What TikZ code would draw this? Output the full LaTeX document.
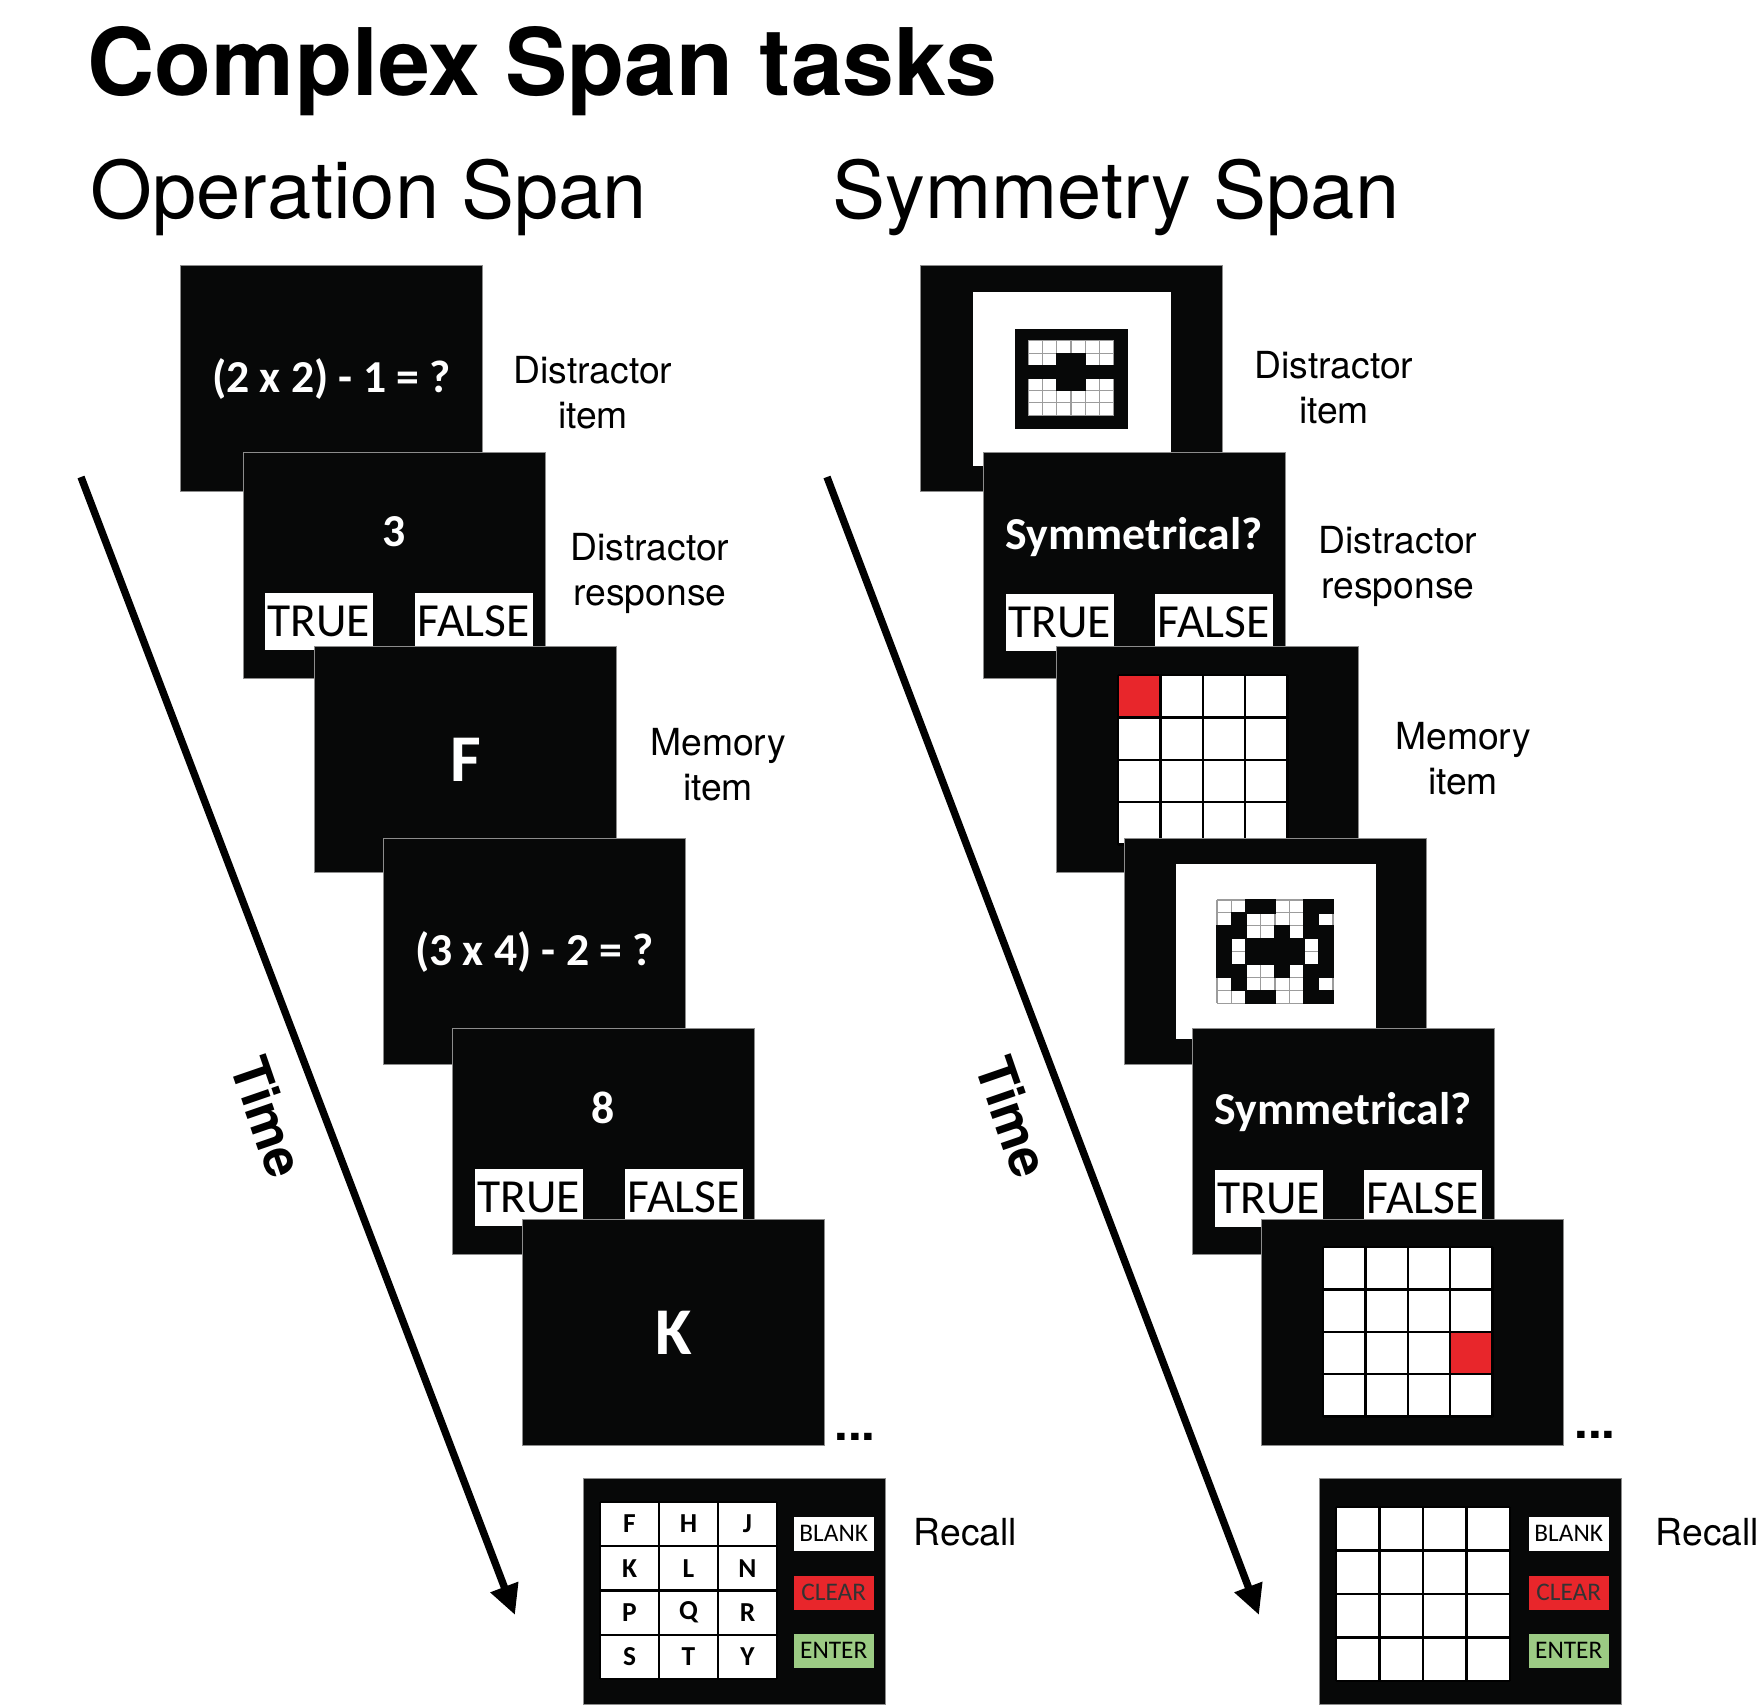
\documentclass[tikz,border=0pt]{standalone}
\usepackage{fontspec}
\setmainfont{TeX Gyre Heros}
\newfontfamily\calibri{Carlito}
\usetikzlibrary{arrows.meta}
\definecolor{screen}{HTML}{070808}
\definecolor{screenedge}{HTML}{8C8C8C}
\definecolor{hitred}{HTML}{E8262B}
\definecolor{entergreen}{HTML}{9CCB84}
\definecolor{cellline}{HTML}{9C9C9C}

\begin{document}
\begin{tikzpicture}[x=0.01cm,y=-0.01cm,
screenbox/.style={draw=screenedge,fill=screen,line width=.3pt,anchor=north west,minimum width=3.02cm,minimum height=2.26cm,inner sep=0pt},
prompt/.style={text=white,font=\calibri\bfseries\fontsize{13}{16}\selectfont,inner sep=0pt},
bigletter/.style={text=white,font=\calibri\bfseries\fontsize{19}{22}\selectfont,inner sep=0pt},
answer/.style={fill=white,anchor=north west,inner sep=0pt,minimum height=.57cm,font=\calibri\fontsize{13.5}{16}\selectfont},
caption/.style={align=center,font=\fontsize{10.6}{12.8}\selectfont},
heading/.style={anchor=base west,inner sep=0pt,font=\fontsize{22.6}{26}\selectfont},
timearrow/.style={-{Triangle[length=.3cm,width=.28cm]},line width=2.1pt},
timelabel/.style={font=\bfseries\fontsize{15}{18}\selectfont,rotate=-71},
button/.style={anchor=north west,minimum width=.8cm,minimum height=.34cm,inner sep=0pt,font=\calibri\fontsize{7.2}{9}\selectfont},
key/.style={font=\calibri\bfseries\fontsize{7.8}{9}\selectfont,inner sep=0pt},
gridline/.style={draw=black,line width=.7pt},
patline/.style={draw=cellline,line width=.3pt},
dots/.style={font=\bfseries\fontsize{14}{16}\selectfont,inner sep=0pt}]
\useasboundingbox (0,0) rectangle (1759,1705);

% headings
\node[anchor=base west,inner sep=0pt,font=\bfseries\fontsize{26.5}{30}\selectfont] (title) at (87,95) {Complex Span tasks};
\node[heading] (opHead) at (90,218) {Operation Span};
\node[heading] (symHead) at (832,218) {Symmetry Span};

% ---- operation span ----
\node[screenbox] (op1) at (180,265) {};
\node[prompt] (op1q) at (op1.center) {(2 x 2) - 1 = ?};
\node[screenbox] (op2) at (243,452) {};
\node[prompt] (op2a) at (394,532) {3};
\node[answer,minimum width=1.08cm] (op2t) at (264,592) {TRUE};
\node[answer,minimum width=1.18cm] (op2f) at (414,592) {FALSE};
\node[screenbox] (op3) at (314,646) {};
\node[bigletter] (op3m) at (op3.center) {F};
\node[screenbox] (op4) at (383,838) {};
\node[prompt] (op4q) at (op4.center) {(3 x 4) - 2 = ?};
\node[screenbox] (op5) at (452,1028) {};
\node[prompt] (op5a) at (603,1108) {8};
\node[answer,minimum width=1.08cm] (op5t) at (474,1168) {TRUE};
\node[answer,minimum width=1.18cm] (op5f) at (624,1168) {FALSE};
\node[screenbox] (op6) at (522,1219) {};
\node[bigletter] (op6m) at (op6.center) {K};
\node[dots] (opdots) at (855,1437) {...};

% recall screen, letters
\node[screenbox] (opRec) at (583,1478) {};
\fill[white] (600,1502) rectangle (777,1679);
\foreach \i in {0,...,3} \draw[gridline] (600+\i*59,1502) -- (600+\i*59,1679);
\foreach \j in {0,...,4} \draw[gridline] (600,1502+\j*44.25) -- (777,1502+\j*44.25);
\foreach \row [count=\r from 0] in {{F,H,J},{K,L,N},{P,Q,R},{S,T,Y}}
  \foreach \ch [count=\c from 0] in \row
    \node[key] (opKey\r\c) at (629.5+\c*59,1524+\r*44.25) {\ch};
\node[button,fill=white] (opBlank) at (793,1516) {BLANK};
\node[button,fill=hitred,text=black!80] (opClear) at (793,1575) {CLEAR};
\node[button,fill=entergreen] (opEnter) at (793,1633) {ENTER};

\node[caption] (opL1) at (593,393) {Distractor\\item};
\node[caption] (opL2) at (650,573) {Distractor\\response};
\node[caption] (opL3) at (718,765) {Memory\\item};
\node[caption,anchor=west,inner sep=0pt] (opL4) at (913,1532) {Recall};

\coordinate (opT0) at (81,477);
\coordinate (opT1) at (515,1615);
\draw[timearrow] (opT0) -- (opT1);
\node[timelabel] (opTime) at (268,1117) {Time};

% ---- symmetry span ----
\node[screenbox] (sym1) at (920,265) {};
\node[fill=white,minimum width=1.98cm,minimum height=1.74cm,inner sep=0pt] (sym1w) at (sym1.center) {};
\node[fill=screen,minimum width=1.13cm,minimum height=1cm,inner sep=0pt] (sym1f) at (sym1.center) {};
\begin{scope}[shift={(1028.4,340.8)}]
  \fill[white] (0,0) rectangle (85.2,74.4);
  \foreach \i in {0,...,6} {\draw[patline] (\i*14.2,0) -- (\i*14.2,74.4); \draw[patline] (0,\i*12.4) -- (85.2,\i*12.4);}
  \foreach \row [count=\r from 0] in {{0,0,0,0,0,0},{0,0,1,1,0,0},{1,1,1,1,1,1},{0,0,1,1,0,0},{0,0,0,0,0,0},{0,0,0,0,0,0}}
    \foreach \v [count=\c from 0] in \row {\ifnum\v=1 \fill[screen] (\c*14.2-.6,\r*12.4-.6) rectangle ++(15.4,13.6);\fi}
\end{scope}

\node[screenbox] (sym2) at (983,452) {};
\node[prompt] (sym2q) at (1134,537) {Symmetrical?};
\node[answer,minimum width=1.08cm] (sym2t) at (1005,593) {TRUE};
\node[answer,minimum width=1.18cm] (sym2f) at (1154,593) {FALSE};

\node[screenbox] (sym3) at (1056,646) {};
\fill[white] (1118,675) rectangle (1287.6,844.6);
\fill[hitred] (1118,675) rectangle ++(42.4,42.4);
\foreach \i in {0,...,4} {\draw[gridline] (1118+\i*42.4,675) -- (1118+\i*42.4,844.6); \draw[gridline] (1118,675+\i*42.4) -- (1287.6,675+\i*42.4);}

\node[screenbox] (sym4) at (1124,838) {};
\node[fill=white,minimum width=2cm,minimum height=1.75cm,inner sep=0pt] (sym4w) at (sym4.center) {};
\begin{scope}[shift={(1217,900)}]
  \fill[white] (0,0) rectangle (116,103.2);
  \foreach \i in {0,...,8} {\draw[patline] (\i*14.5,0) -- (\i*14.5,103.2); \draw[patline] (0,\i*12.9) -- (116,\i*12.9);}
  \foreach \row [count=\r from 0] in {{0,0,1,1,0,0,1,1},{0,1,0,0,0,0,1,0},{1,1,0,0,1,0,1,1},{1,0,1,1,1,1,0,1},{1,0,1,1,1,1,0,1},{1,1,0,0,1,0,1,1},{0,1,0,0,0,0,1,0},{0,0,1,1,0,0,1,1}}
    \foreach \v [count=\c from 0] in \row {\ifnum\v=1 \fill[screen] (\c*14.5-.6,\r*12.9-.6) rectangle ++(15.7,14.1);\fi}
\end{scope}

\node[screenbox] (sym5) at (1192,1028) {};
\node[prompt] (sym5q) at (1343,1112) {Symmetrical?};
\node[answer,minimum width=1.08cm] (sym5t) at (1214,1169) {TRUE};
\node[answer,minimum width=1.18cm] (sym5f) at (1363,1169) {FALSE};

\node[screenbox] (sym6) at (1261,1219) {};
\fill[white] (1323,1247) rectangle (1492.6,1416.6);
\fill[hitred] (1323+3*42.4,1247+2*42.4) rectangle ++(42.4,42.4);
\foreach \i in {0,...,4} {\draw[gridline] (1323+\i*42.4,1247) -- (1323+\i*42.4,1416.6); \draw[gridline] (1323,1247+\i*42.4) -- (1492.6,1247+\i*42.4);}
\node[dots] (symdots) at (1595,1435) {...};

% recall screen, blank grid
\node[screenbox] (symRec) at (1319,1478) {};
\fill[white] (1336,1507) rectangle (1510,1681);
\foreach \i in {0,...,4} {\draw[gridline] (1336+\i*43.5,1507) -- (1336+\i*43.5,1681); \draw[gridline] (1336,1507+\i*43.5) -- (1510,1507+\i*43.5);}
\node[button,fill=white] (symBlank) at (1528,1516) {BLANK};
\node[button,fill=hitred,text=black!80] (symClear) at (1528,1575) {CLEAR};
\node[button,fill=entergreen] (symEnter) at (1528,1633) {ENTER};

\node[caption] (symL1) at (1334,388) {Distractor\\item};
\node[caption] (symL2) at (1398,566) {Distractor\\response};
\node[caption] (symL3) at (1463,759) {Memory\\item};
\node[caption,anchor=west,inner sep=0pt] (symL4) at (1655,1532) {Recall};

\coordinate (symT0) at (827,477);
\coordinate (symT1) at (1259,1615);
\draw[timearrow] (symT0) -- (symT1);
\node[timelabel] (symTime) at (1013,1117) {Time};
\end{tikzpicture}
\end{document}
